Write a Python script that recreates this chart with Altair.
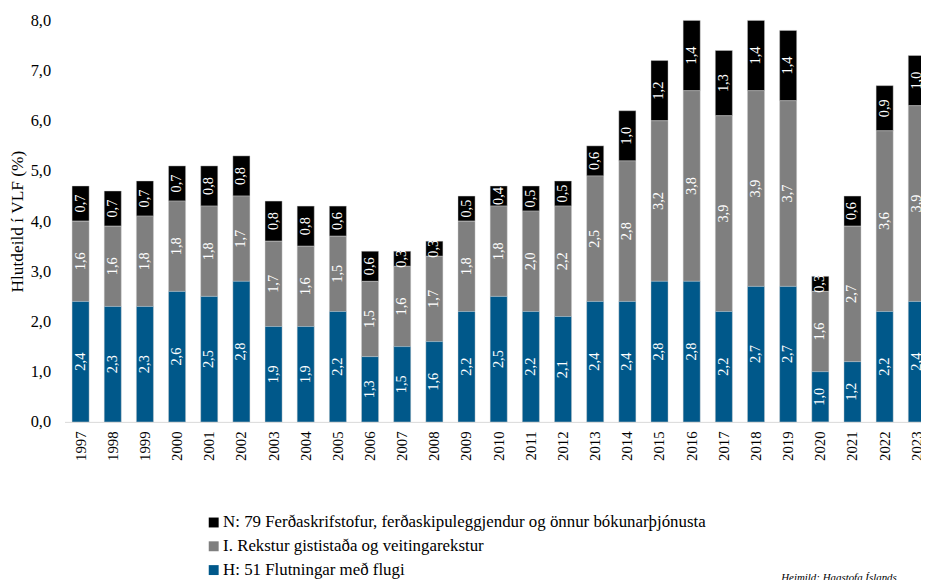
import altair as alt
import pandas as pd

years = [str(y) for y in range(1997, 2024)]
h_flug = [2.4, 2.3, 2.3, 2.6, 2.5, 2.8, 1.9, 1.9, 2.2, 1.3, 1.5, 1.6, 2.2, 2.5, 2.2, 2.1, 2.4, 2.4, 2.8, 2.8, 2.2, 2.7, 2.7, 1.0, 1.2, 2.2, 2.4]
i_gist = [1.6, 1.6, 1.8, 1.8, 1.8, 1.7, 1.7, 1.6, 1.5, 1.5, 1.6, 1.7, 1.8, 1.8, 2.0, 2.2, 2.5, 2.8, 3.2, 3.8, 3.9, 3.9, 3.7, 1.6, 2.7, 3.6, 3.9]
n_ferd = [0.7, 0.7, 0.7, 0.7, 0.8, 0.8, 0.8, 0.8, 0.6, 0.6, 0.3, 0.3, 0.5, 0.4, 0.5, 0.5, 0.6, 1.0, 1.2, 1.4, 1.3, 1.4, 1.4, 0.3, 0.6, 0.9, 1.0]

series_names = [
    "N: 79 Ferðaskrifstofur, ferðaskipuleggjendur og önnur bókunarþjónusta",
    "I. Rekstur gististaða og veitingarekstur",
    "H: 51 Flutningar með flugi",
]
series_colors = ["#000000", "#7f7f7f", "#00588a"]

rows = []
for k, (name, vals) in enumerate(zip(series_names, [n_ferd, i_gist, h_flug])):
    for y, v in zip(years, vals):
        rows.append({"year": y, "series": name, "value": v, "ord": 2 - k})
df = pd.DataFrame(rows)

FONT = "Liberation Serif"

base = alt.Chart(df).transform_stack(
    stack="value", groupby=["year"], as_=["v0", "v1"], sort=[alt.SortField("ord")]
).transform_calculate(
    mid="(datum.v0 + datum.v1) / 2",
    lab="replace(format(datum.value, '.1f'), '.', ',')",
)

xscale = alt.Scale(paddingInner=0.47, paddingOuter=0.235, range=[0, 876])

x_enc = alt.X(
    "year:N",
    title=None,
    sort=years,
    scale=xscale,
    axis=alt.Axis(
        labelAngle=-90, labelFontSize=15, labelFont=FONT, labelColor="#000000",
        ticks=False, domainColor="#d9d9d9", labelPadding=9,
    ),
)

bars = base.mark_bar(stroke="#d0d0d0", strokeWidth=0.6, strokeOpacity=0.7).encode(
    x=x_enc,
    y=alt.Y(
        "v0:Q",
        title="Hlutdeild í VLF (%)",
        scale=alt.Scale(domain=[0, 8], nice=False),
        axis=alt.Axis(
            values=[0, 1, 2, 3, 4, 5, 6, 7, 8],
            labelExpr="replace(format(datum.value, '.1f'), '.', ',')",
            labelFontSize=16.5, labelFont=FONT, labelColor="#000000",
            titleFontSize=17.5, titleFont=FONT, titleFontWeight="normal", titleColor="#000000",
            domain=False, ticks=False, grid=False, labelPadding=14, titlePadding=4,
        ),
    ),
    y2="v1:Q",
    color=alt.Color(
        "series:N",
        scale=alt.Scale(domain=series_names, range=series_colors),
        legend=alt.Legend(
            title=None, orient="none", legendX=142, legendY=498, direction="vertical",
            symbolType="square", symbolSize=100, symbolStrokeWidth=0, padding=0,
            labelFont=FONT, labelFontSize=17, labelColor="#000000", labelLimit=0,
            rowPadding=6, labelOffset=1,
        ),
    ),
)

labels = base.mark_text(color="white", angle=270, font=FONT, fontSize=14.5, baseline="middle", align="center").encode(
    x=alt.X("year:N", sort=years, scale=xscale),
    y=alt.Y("mid:Q"),
    text="lab:N",
)

src = alt.Chart(pd.DataFrame({"t": ["Heimild: Hagstofa Íslands"]})).mark_text(
    font=FONT, fontSize=11, fontStyle="italic", align="left", baseline="middle", color="#000000"
).encode(x=alt.value(723), y=alt.value(563), text="t:N")

chart = alt.layer(bars, labels, src).properties(
    width=864, height=405,
    autosize=alt.AutoSizeParams(type="none"),
    padding={"left": 57, "top": 10, "right": 0, "bottom": 157},
).configure(font=FONT).configure_axis(labelFont=FONT, titleFont=FONT).configure_legend(
    labelFont=FONT
).configure_text(font=FONT).configure_view(stroke=None)

chart.save("out.html", embed_options={"renderer": "svg", "actions": False})
